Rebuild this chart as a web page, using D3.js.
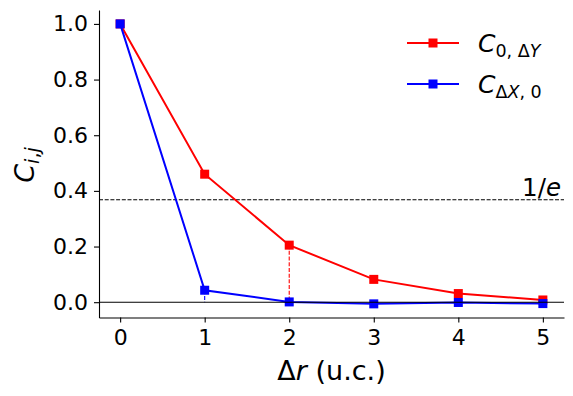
<!DOCTYPE html>
<html>
<head>
<meta charset="utf-8">
<script src="https://cdn.jsdelivr.net/npm/d3@7"></script>
<style>
  body { margin: 0; background: #fff; }
  text { font-family: "DejaVu Sans", sans-serif; }
</style>
</head>
<body>
<div id="chart"></div>
<script>
// data
const dr = [0, 1, 2, 3, 4, 5];
const cY = [1.0, 0.46, 0.205, 0.082, 0.031, 0.008];   // C_{0,ΔY}
const cX = [1.0, 0.043, 0.001, -0.006, -0.001, -0.005]; // C_{ΔX,0}
const xTicks = [0, 1, 2, 3, 4, 5];
const yTicks = [0.0, 0.2, 0.4, 0.6, 0.8, 1.0];
const invE = 1 / Math.E;

const W = 573, H = 396;
const mLeft = 99, mRight = 564, mTop = 10, mBottom = 317.5;

const svg = d3.select('#chart').append('svg')
  .attr('width', W).attr('height', H);

const x = d3.scaleLinear().domain([-0.25, 5.25]).range([mLeft, mRight]);
const y = d3.scaleLinear().domain([-0.055, 1.05]).range([mBottom, mTop]);

// 1/e reference
svg.append('line')
  .attr('x1', mLeft).attr('x2', mRight)
  .attr('y1', y(invE)).attr('y2', y(invE))
  .attr('stroke', '#000').attr('stroke-width', 1.1)
  .attr('stroke-dasharray', '4,1.7');

svg.append('text')
  .attr('x', 561).attr('y', 196)
  .attr('text-anchor', 'end')
  .style('font-size', '24.5px')
  .html('1/<tspan font-style="italic">e</tspan>');

// vertical drop lines
svg.append('line')
  .attr('x1', x(2)).attr('x2', x(2))
  .attr('y1', y(cY[2])).attr('y2', y(0))
  .attr('stroke', 'red').attr('stroke-width', 1.1)
  .attr('stroke-dasharray', '4,1.7');
svg.append('line')
  .attr('x1', x(1)).attr('x2', x(1))
  .attr('y1', y(cX[1])).attr('y2', y(0))
  .attr('stroke', 'blue').attr('stroke-width', 1.1)
  .attr('stroke-dasharray', '4,1.7');

// series
const line = d3.line().x((d, i) => x(dr[i])).y(d => y(d));
const ms = 9;
function series(vals, color) {
  svg.append('path').datum(vals)
    .attr('d', line)
    .attr('fill', 'none')
    .attr('stroke', color)
    .attr('stroke-width', 2);
  svg.append('g').selectAll('rect')
    .data(vals)
    .enter()
    .append('rect')
    .attr('x', (d, i) => x(dr[i]) - ms / 2)
    .attr('y', d => y(d) - ms / 2)
    .attr('width', ms).attr('height', ms)
    .attr('fill', color);
}
series(cY, 'red');
series(cX, 'blue');

// zero line
svg.append('line')
  .attr('x1', mLeft).attr('x2', mRight)
  .attr('y1', y(0)).attr('y2', y(0))
  .attr('stroke', '#000').attr('stroke-width', 1.1);

// axes
const xAxis = svg.append('g')
  .attr('transform', `translate(0,${mBottom})`)
  .call(d3.axisBottom(x).tickValues(xTicks).tickFormat(d3.format('d'))
    .tickSizeInner(5).tickSizeOuter(0).tickPadding(7));
const yAxis = svg.append('g')
  .attr('transform', `translate(${mLeft},0)`)
  .call(d3.axisLeft(y).tickValues(yTicks).tickFormat(d3.format('.1f'))
    .tickSizeInner(5).tickSizeOuter(0).tickPadding(6));

[xAxis, yAxis].forEach(g => {
  g.attr('font-size', null).attr('font-family', null);
  g.select('.domain').attr('stroke', '#000').attr('stroke-width', 1.1);
  g.selectAll('.tick line').attr('stroke', '#000').attr('stroke-width', 1.1);
  g.selectAll('.tick text')
    .style('font-family', '"DejaVu Sans", sans-serif')
    .style('font-size', '22px').attr('fill', '#000');
});

// axis labels
svg.append('text')
  .attr('x', (mLeft + mRight) / 2).attr('y', 380)
  .attr('text-anchor', 'middle')
  .style('font-size', '27px')
  .html('Δ<tspan font-style="italic">r</tspan> (u.c.)');

svg.append('text')
  .attr('transform', 'translate(34,165) rotate(-90)')
  .attr('text-anchor', 'middle')
  .style('font-size', '27px')
  .html('<tspan font-style="italic">C</tspan><tspan font-size="19" dy="5"><tspan font-style="italic">i</tspan>,<tspan font-style="italic">j</tspan></tspan>');

// legend
const legend = [
  { color: 'red', y: 43, label: '<tspan font-style="italic">C</tspan><tspan font-size="17.5" dy="5">0, Δ<tspan font-style="italic">Y</tspan></tspan>' },
  { color: 'blue', y: 84, label: '<tspan font-style="italic">C</tspan><tspan font-size="17.5" dy="5">Δ<tspan font-style="italic">X</tspan>, 0</tspan>' }
];
legend.forEach(l => {
  svg.append('line')
    .attr('x1', 407).attr('x2', 459)
    .attr('y1', l.y).attr('y2', l.y)
    .attr('stroke', l.color).attr('stroke-width', 2);
  svg.append('rect')
    .attr('x', 433 - ms / 2).attr('y', l.y - ms / 2)
    .attr('width', ms).attr('height', ms)
    .attr('fill', l.color);
  svg.append('text')
    .attr('x', 478).attr('y', l.y + 9)
    .style('font-size', '25px')
    .html(l.label);
});
</script>
</body>
</html>
